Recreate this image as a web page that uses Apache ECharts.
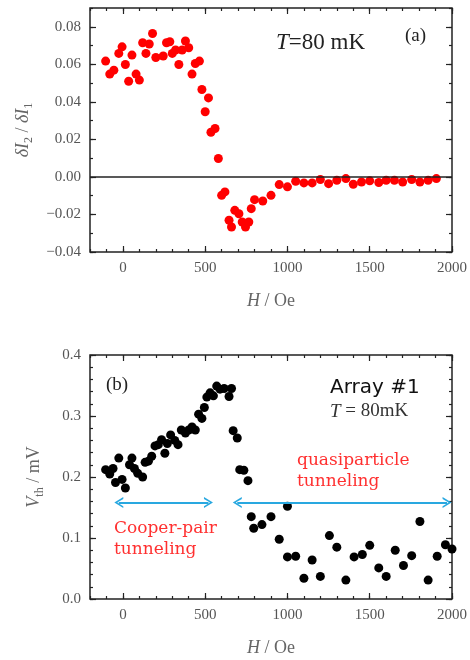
<!DOCTYPE html>
<html>
<head>
<meta charset="utf-8">
<script src="https://cdn.jsdelivr.net/npm/echarts@6/dist/echarts.min.js"></script>
<style>
    html, body { margin: 0; padding: 0; background: #fff; }
    #chart { width: 470px; height: 660px; }
</style>
</head>
<body>
<div id="chart"></div>
<script>
    // panel (a): dI2/dI1 vs H
    var topH = [-105, -80, -55, -25, -5, 15, 35, 55, 80, 100, 120, 140, 160, 180, 200, 245, 265, 285, 300, 320,
        340, 360, 380, 400, 420, 440, 465, 480, 520, 500, 535, 560, 580, 600, 620, 645, 660, 680, 705, 725,
        745, 765, 780, 800, 850, 900, 950, 1000, 1050, 1100, 1150, 1200, 1250, 1300, 1355, 1400, 1450, 1500, 1555, 1600,
        1650, 1700, 1755, 1805, 1855, 1905];
    var topV = [0.0617, 0.0548, 0.0569, 0.0658, 0.0693, 0.0599, 0.051, 0.0649, 0.0548, 0.0516, 0.0715, 0.0658, 0.0708, 0.0764, 0.0636, 0.0644, 0.0715, 0.072, 0.0658, 0.0676,
        0.0599, 0.0676, 0.0724, 0.0688, 0.0548, 0.0604, 0.0617, 0.0466, 0.0421, 0.0347, 0.0238, 0.0258, 0.0098, -0.0098, -0.008, -0.0231, -0.0267, -0.0178, -0.0196, -0.024,
        -0.0267, -0.024, -0.0169, -0.0121, -0.0128, -0.0098, -0.0041, -0.0053, -0.0023, -0.0032, -0.0032, -0.0014, -0.0036, -0.0018, -0.0009, -0.0039, -0.0027, -0.0021, -0.003, -0.0018,
        -0.0018, -0.0027, -0.0014, -0.0027, -0.0018, -0.0009];

    // panel (b): Vth vs H
    var botH = [-105, -80, -60, -45, -25, -5, 15, 40, 55, 70, 90, 120, 135, 155, 175, 195, 215, 235, 255, 270,
        290, 315, 335, 355, 380, 400, 420, 440, 460, 480, 495, 510, 530, 550, 570, 590, 615, 645, 660, 670,
        695, 710, 735, 760, 780, 795, 845, 900, 950, 1000, 1000, 1050, 1100, 1150, 1200, 1255, 1300, 1355, 1405, 1455,
        1500, 1555, 1600, 1655, 1705, 1755, 1805, 1855, 1910, 1960, 2000];
    var botV = [0.212, 0.205, 0.214, 0.191, 0.231, 0.196, 0.182, 0.22, 0.231, 0.214, 0.206, 0.2, 0.224, 0.226, 0.234, 0.251, 0.253, 0.261, 0.239, 0.255,
        0.269, 0.26, 0.253, 0.277, 0.272, 0.277, 0.282, 0.277, 0.303, 0.296, 0.314, 0.331, 0.338, 0.333, 0.349, 0.344, 0.345, 0.332, 0.345, 0.276,
        0.264, 0.212, 0.211, 0.194, 0.135, 0.116, 0.122, 0.135, 0.098, 0.152, 0.069, 0.07, 0.034, 0.064, 0.037, 0.104, 0.085, 0.031, 0.069, 0.073,
        0.088, 0.051, 0.037, 0.08, 0.055, 0.071, 0.127, 0.031, 0.07, 0.089, 0.082];

    // tick positions
    var hMajor = [0, 500, 1000, 1500, 2000];
    var topMajor = [-0.04, -0.02, 0, 0.02, 0.04, 0.06, 0.08];
    var botMajor = [0, 0.1, 0.2, 0.3, 0.4];

    // arrows (H from, H to, Vth level)
    var cooperArrow = [-25, 520, 0.158];
    var quasiArrow = [695, 1970, 0.158];

    function range(a, b, step) {
        var out = [];
        for (var v = a; v <= b + step / 2; v += step) out.push(+v.toFixed(4));
        return out;
    }
    var hMinor = range(-200, 2000, 100);
    var topMinor = range(-0.04, 0.09, 0.01);
    var botMinor = range(0, 0.4, 0.02);

    var serif = '"Liberation Serif", "DejaVu Serif", serif';
    var wideSerif = '"DejaVu Serif", serif';
    var ink = '#222';

    // an axis that only draws ticks (and labels if asked)
    function mkAxis(grid, pos, min, max, ticks, len, labels, fmt) {
        return {
            type: 'value', gridIndex: grid, position: pos, min: min, max: max,
            axisLine: {show: false, onZero: false},
            splitLine: {show: false},
            axisTick: {show: true, inside: true, length: len, customValues: ticks,
                lineStyle: {color: ink, width: 1.2}},
            axisLabel: labels ? {show: true, customValues: labels, margin: 9, formatter: fmt,
                fontFamily: serif, fontSize: 15, color: '#555'} : {show: false}
        };
    }
    function minus(s) { return s.replace('-', '\u2212'); }

    var xAxes = [], yAxes = [];
    [0, 1].forEach(function (g) {
        xAxes.push(mkAxis(g, 'bottom', -200, 2000, hMajor, 6, hMajor, function (v) { return v; }));
        xAxes.push(mkAxis(g, 'bottom', -200, 2000, hMinor, 3));
        xAxes.push(mkAxis(g, 'top', -200, 2000, hMajor, 6));
        xAxes.push(mkAxis(g, 'top', -200, 2000, hMinor, 3));
    });
    // axis names
    xAxes[0].name = xAxes[4].name = '{i|H}{n| / Oe}';
    [xAxes[0], xAxes[4]].forEach(function (a) {
        a.nameLocation = 'middle';
        a.nameGap = 40;
        a.nameTextStyle = {color: '#666', rich: {
            i: {fontFamily: serif, fontSize: 18, fontStyle: 'italic', color: '#666'},
            n: {fontFamily: serif, fontSize: 18, color: '#666'}
        }};
    });

    yAxes.push(mkAxis(0, 'left', -0.04, 0.09, topMajor, 6, topMajor, function (v) { return minus(v.toFixed(2)); }));
    yAxes.push(mkAxis(0, 'left', -0.04, 0.09, topMinor, 3));
    yAxes.push(mkAxis(0, 'right', -0.04, 0.09, topMajor, 6));
    yAxes.push(mkAxis(0, 'right', -0.04, 0.09, topMinor, 3));
    yAxes.push(mkAxis(1, 'left', 0, 0.4, botMajor, 6, botMajor, function (v) { return v.toFixed(1); }));
    yAxes.push(mkAxis(1, 'left', 0, 0.4, botMinor, 3));
    yAxes.push(mkAxis(1, 'right', 0, 0.4, botMajor, 6));
    yAxes.push(mkAxis(1, 'right', 0, 0.4, botMinor, 3));

    var nameRich = {
        i: {fontFamily: serif, fontSize: 18, fontStyle: 'italic', color: '#666', lineHeight: 24},
        n: {fontFamily: serif, fontSize: 18, color: '#666', lineHeight: 24},
        s: {fontFamily: serif, fontSize: 12, color: '#666', lineHeight: 12, verticalAlign: 'bottom'}
    };
    yAxes[0].name = '{i|\u03b4I}{s|2}{n| / }{i|\u03b4I}{s|1}';
    yAxes[0].nameGap = 55;
    yAxes[4].name = '{i|V}{s|th}{n| / mV}';
    yAxes[4].nameGap = 44;
    [yAxes[0], yAxes[4]].forEach(function (a) {
        a.nameLocation = 'middle';
        a.nameTextStyle = {color: '#666', rich: nameRich};
    });

    function pairs(xs, ys) {
        return xs.map(function (x, i) { return [x, ys[i]]; });
    }

    var chevron = 'path://M0,10 L6,0 L12,10 L10,10 L6,3.3 L2,10 Z';
    function arrowLine(a) {
        return [{coord: [a[0], a[2]]}, {coord: [a[1], a[2]]}];
    }

    var myChart = echarts.init(document.getElementById('chart'));
    myChart.setOption({
        animation: false,
        grid: [
            {left: 90, top: 8, width: 362, height: 244, show: true, borderColor: ink, borderWidth: 1.5, backgroundColor: 'transparent'},
            {left: 90, top: 355, width: 362, height: 244, show: true, borderColor: ink, borderWidth: 1.5, backgroundColor: 'transparent'}
        ],
        xAxis: xAxes,
        yAxis: yAxes,
        series: [{
            type: 'scatter', xAxisIndex: 0, yAxisIndex: 0,
            symbolSize: 9,
            itemStyle: {color: '#ff0000', opacity: 1},
            data: pairs(topH, topV),
            z: 3,
            //零线
            markLine: {
                silent: true, symbol: 'none', label: {show: false},
                lineStyle: {color: ink, width: 1.5, type: 'solid'},
                data: [{yAxis: 0}]
            }
        }, {
            type: 'scatter', xAxisIndex: 4, yAxisIndex: 4,
            symbolSize: 9,
            itemStyle: {color: '#000', opacity: 1},
            data: pairs(botH, botV),
            z: 3,
            //双向箭头
            markLine: {
                silent: true, symbol: [chevron, chevron], symbolSize: [11, 9],
                label: {show: false},
                lineStyle: {color: '#29a8e0', width: 2, type: 'solid'},
                data: [arrowLine(cooperArrow), arrowLine(quasiArrow)]
            }
        }],
        graphic: [
            {type: 'text', left: 405, top: 27, style: {text: '(a)', font: '19px ' + serif, fill: ink}},
            {type: 'text', left: 276, top: 31, style: {
                text: '{i|T}{n|=80 mK}', rich: {
                    i: {fontFamily: serif, fontSize: 23, fontStyle: 'italic', fill: ink},
                    n: {fontFamily: serif, fontSize: 23, fill: ink}
                }}},
            {type: 'text', left: 106, top: 376, style: {text: '(b)', font: '19px ' + serif, fill: ink}},
            {type: 'text', left: 330, top: 378, style: {text: 'Array #1', font: '20px "DejaVu Sans", sans-serif', fill: '#111'}},
            {type: 'text', left: 330, top: 402, style: {
                text: '{i|T}{n| = 80mK}', rich: {
                    i: {fontFamily: serif, fontSize: 19, fontStyle: 'italic', fill: '#333'},
                    n: {fontFamily: serif, fontSize: 19, fill: '#333'}
                }}},
            {type: 'text', left: 297, top: 450, style: {
                text: 'quasiparticle\ntunneling', font: '17px ' + wideSerif, fill: '#ff3030', lineHeight: 21}},
            {type: 'text', left: 114, top: 518, style: {
                text: 'Cooper-pair\ntunneling', font: '17px ' + wideSerif, fill: '#ff3030', lineHeight: 21}}
        ]
    });
</script>
</body>
</html>
